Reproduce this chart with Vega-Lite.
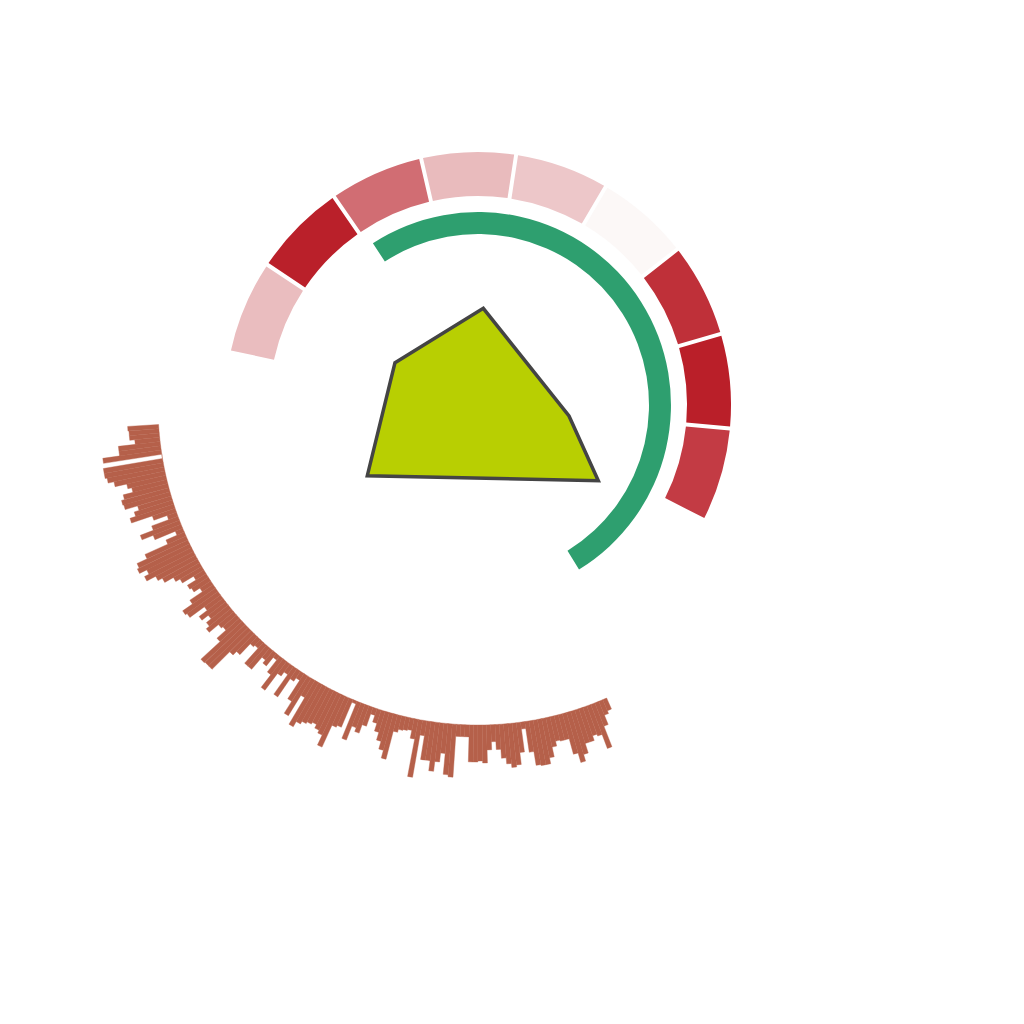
{
  "$schema": "https://vega.github.io/schema/vega-lite/v6.json",
  "width": 800,
  "height": 800,
  "autosize": "none",
  "padding": {"left": 78, "top": 5, "right": 0, "bottom": 0},
  "background": "white",
  "config": {"view": {"stroke": null}},
  "datasets": {
    "bars": [
      {"k":0,"len":31},{"k":1,"len":30},{"k":2,"len":30},{"k":3,"len":25},{"k":4,"len":42},{"k":5,"len":42},{"k":6,"len":59},{"k":7,"len":0},{"k":8,"len":60},{"k":9,"len":60},
      {"k":10,"len":58},{"k":11,"len":52},{"k":12,"len":40},{"k":13,"len":36},{"k":14,"len":46},{"k":15,"len":49},{"k":16,"len":48},{"k":17,"len":35},{"k":18,"len":40},{"k":19,"len":46},
      {"k":20,"len":24},{"k":21,"len":10},{"k":22,"len":28},{"k":23,"len":42},{"k":24,"len":30},{"k":25,"len":8},{"k":26,"len":20},{"k":27,"len":45},{"k":28,"len":56},{"k":29,"len":58},
      {"k":30,"len":50},{"k":31,"len":55},{"k":32,"len":45},{"k":33,"len":40},{"k":34,"len":30},{"k":35,"len":25},{"k":36,"len":12},{"k":37,"len":22},{"k":38,"len":20},{"k":39,"len":13},
      {"k":40,"len":28},{"k":41,"len":40},{"k":42,"len":38},{"k":43,"len":20},{"k":44,"len":30},{"k":45,"len":22},{"k":46,"len":28},{"k":47,"len":32},{"k":48,"len":20},{"k":49,"len":18},
      {"k":50,"len":30},{"k":51,"len":56},{"k":52,"len":55},{"k":53,"len":55},{"k":54,"len":30},{"k":55,"len":25},{"k":56,"len":10},{"k":57,"len":8},{"k":58,"len":28},{"k":59,"len":28},
      {"k":60,"len":12},{"k":61,"len":16},{"k":62,"len":5},{"k":63,"len":20},{"k":64,"len":36},{"k":65,"len":15},{"k":66,"len":10},{"k":67,"len":34},{"k":68,"len":12},{"k":69,"len":8},
      {"k":70,"len":30},{"k":71,"len":44},{"k":72,"len":20},{"k":73,"len":51},{"k":74,"len":45},{"k":75,"len":42},{"k":76,"len":40},{"k":77,"len":38},{"k":78,"len":42},{"k":79,"len":45},
      {"k":80,"len":56},{"k":81,"len":32},{"k":82,"len":30},{"k":83,"len":3},{"k":84,"len":40},{"k":85,"len":25},{"k":86,"len":29},{"k":87,"len":20},{"k":88,"len":7},{"k":89,"len":14},
      {"k":90,"len":22},{"k":91,"len":30},{"k":92,"len":38},{"k":93,"len":46},{"k":94,"len":17},{"k":95,"len":14},{"k":96,"len":13},{"k":97,"len":12},{"k":98,"len":20},{"k":99,"len":58},
      {"k":100,"len":15},{"k":101,"len":39},{"k":102,"len":39},{"k":103,"len":49},{"k":104,"len":39},{"k":105,"len":30},{"k":106,"len":51},{"k":107,"len":53},{"k":108,"len":12},{"k":109,"len":12},
      {"k":110,"len":12},{"k":111,"len":37},{"k":112,"len":37},{"k":113,"len":36},{"k":114,"len":38},{"k":115,"len":25},{"k":116,"len":17},{"k":117,"len":25},{"k":118,"len":34},{"k":119,"len":40},
      {"k":120,"len":44},{"k":121,"len":42},{"k":122,"len":30},{"k":123,"len":7},{"k":124,"len":31},{"k":125,"len":45},{"k":126,"len":46},{"k":127,"len":46},{"k":128,"len":40},{"k":129,"len":30},
      {"k":130,"len":25},{"k":131,"len":26},{"k":132,"len":26},{"k":133,"len":42},{"k":134,"len":52},{"k":135,"len":45},{"k":136,"len":35},{"k":137,"len":35},{"k":138,"len":30},{"k":139,"len":32},
      {"k":140,"len":47},{"k":141,"len":25},{"k":142,"len":15},{"k":143,"len":12}
    ],
    "ring": [
      {"i":0,"v":0.28},{"i":1,"v":0.98},{"i":2,"v":0.64},{"i":3,"v":0.29},{"i":4,"v":0.235},
      {"i":5,"v":0.02},{"i":6,"v":0.91},{"i":7,"v":0.985},{"i":8,"v":0.86}
    ],
    "gauge": [{"share":0.504}],
    "poly": [
      {"o":0,"px":-83,"py":42.3},
      {"o":1,"px":5.3,"py":96.7},
      {"o":2,"px":91,"py":-11},
      {"o":3,"px":120.3,"py":-75.7},
      {"o":4,"px":-110.7,"py":-70.7}
    ]
  },
  "resolve": {"scale": {"theta": "independent", "radius": "independent", "color": "independent", "x": "independent", "y": "independent"}},
  "layer": [
    {
      "data": {"name": "bars"},
      "transform": [
        {"window": [{"op": "row_number", "as": "kEnd"}], "sort": [{"field": "k", "order": "ascending"}]}
      ],
      "mark": {"type": "arc", "radius2": 320, "fill": "#b5604a", "stroke": "#b5604a", "strokeWidth": 0.4},
      "encoding": {
        "theta": {"field": "k", "type": "quantitative", "stack": null, "scale": {"domain": [0, 144], "range": [4.6513, 2.7279]}},
        "theta2": {"field": "kEnd"},
        "radius": {"field": "len", "type": "quantitative", "scale": {"type": "linear", "zero": false, "domain": [0, 60], "range": [320, 380]}}
      }
    },
    {
      "data": {"name": "ring"},
      "mark": {"type": "arc", "radius": 253, "radius2": 209, "padAngle": 0.012},
      "encoding": {
        "theta": {"aggregate": "count", "type": "quantitative", "stack": true, "scale": {"domain": [0, 9], "range": [4.9218, 8.3252]}},
        "order": {"field": "i", "type": "quantitative"},
        "detail": {"field": "i", "type": "quantitative"},
        "color": {"field": "v", "type": "quantitative", "scale": {"domain": [0, 1], "range": ["#fdfcfb", "#b91c26"], "interpolate": "rgb"}, "legend": null}
      }
    },
    {
      "data": {"name": "gauge"},
      "mark": {"type": "arc", "radius": 193, "radius2": 171, "color": "#2e9f6f"},
      "encoding": {
        "theta": {"field": "share", "type": "quantitative", "scale": {"domain": [0, 1], "range": [5.7072, 11.9904]}}
      }
    },
    {
      "data": {"name": "poly"},
      "mark": {"type": "line", "interpolate": "linear-closed", "fill": "#b8cf02", "stroke": "#444444", "strokeWidth": 3.5, "strokeJoin": "miter"},
      "encoding": {
        "x": {"field": "px", "type": "quantitative", "scale": {"domain": [-400, 400]}, "axis": null},
        "y": {"field": "py", "type": "quantitative", "scale": {"domain": [-400, 400]}, "axis": null},
        "order": {"field": "o", "type": "quantitative"}
      }
    }
  ]
}
